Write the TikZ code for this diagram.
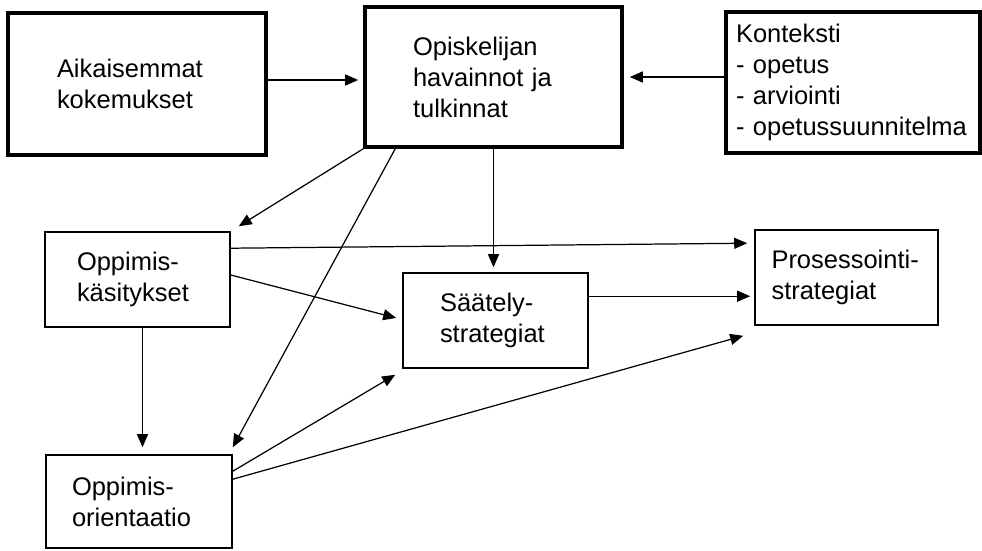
\documentclass[tikz,border=0pt]{standalone}
\usepackage{fontspec}
\setmainfont{Liberation Sans}
\usetikzlibrary{arrows.meta}

\begin{document}
\begin{tikzpicture}[
		font=\fontsize{14.5}{17.6}\selectfont,
		box/.style={draw, rectangle, align=left, inner ysep=0pt},
		heavy box/.style={box, line width=2pt},
		light box/.style={box, line width=0.9pt},
		arr/.style={-{Triangle[length=0.26cm, width=0.22cm]}, line width=0.7pt}
	]
  \useasboundingbox (0,0) rectangle (19.64,-11);
  \node (aik_kok) [heavy box, minimum height=2.84cm, inner xsep=0.98cm, text width=3.2cm] at (2.74cm, -1.68cm) {Aikaisemmat\\kokemukset};
  \node (opi_hav) [heavy box, minimum height=2.8cm, inner xsep=0.96cm, text width=3.22cm] at (9.87cm, -1.54cm) {Opiskelijan\\havainnot ja\\tulkinnat};
  \node (kont) [heavy box, minimum height=2.82cm, inner xsep=0.2cm, text width=4.68cm] at (17.06cm, -1.65cm) {Konteksti\\- opetus\\- arviointi\\- opetussuunnitelma};
  \node (opp_kas) [light box, minimum height=1.9cm, inner xsep=0.64cm, text width=2.42cm] at (2.75cm, -5.59cm) {Oppimis-\\käsitykset};
  \node (opp_or) [light box, minimum height=1.86cm, inner xsep=0.52cm, text width=2.68cm] at (2.78cm, -10.03cm) {Oppimis-\\orientaatio};
  \node (saat) [light box, minimum height=1.9cm, inner xsep=0.74cm, text width=2.22cm] at (9.91cm, -6.41cm) {Säätely-\\strategiat};
  \node (pros) [light box, minimum height=1.9cm, inner xsep=0.33cm, text width=3.0cm] at (16.93cm, -5.55cm) {Prosessointi-\\strategiat};
  \draw [arr, shorten >=0.1cm] ([yshift=0.08cm]aik_kok.east) -- ([yshift=0.08cm]aik_kok.east -| opi_hav.west);
  \draw [arr, shorten >=0.12cm] (kont.west |- opi_hav.east) -- (opi_hav.east);
  \draw [arr] (opi_hav.south west) -- ([shift={(0.16cm, 0.1cm)}]opp_kas.north east);
  \draw [arr] ([xshift=0.64cm]opi_hav.south west) -- ([yshift=0.14cm]opp_or.north east);
  \draw [arr, shorten >=0.1cm] (opi_hav.south) -- (opi_hav.south |- saat.north);
  \draw [arr] ([yshift=-0.34cm]opp_kas.north east) -- ([shift={(-0.14cm, -0.28cm)}]pros.north west);
  \draw [arr] ([yshift=0.09cm]opp_kas.east) -- ([shift={(-0.12cm, 0.05cm)}]saat.west);
  \draw [arr, shorten >=0.14cm] ([xshift=0.1cm]opp_kas.south) -- ([xshift=0.1cm]opp_kas.south |- opp_or.north);
  \draw [arr] ([yshift=-0.34cm]opp_or.north east) -- ([shift={(-0.14cm, -0.12cm)}]saat.south west);
  \draw [arr] ([yshift=-0.5cm]opp_or.north east) -- ([shift={(-0.22cm, -0.2cm)}]pros.south west);
  \draw [arr] ([yshift=-0.48cm]saat.north east) -- ([shift={(-0.08cm, -1.34cm)}]pros.north west);
\end{tikzpicture}
\end{document}
